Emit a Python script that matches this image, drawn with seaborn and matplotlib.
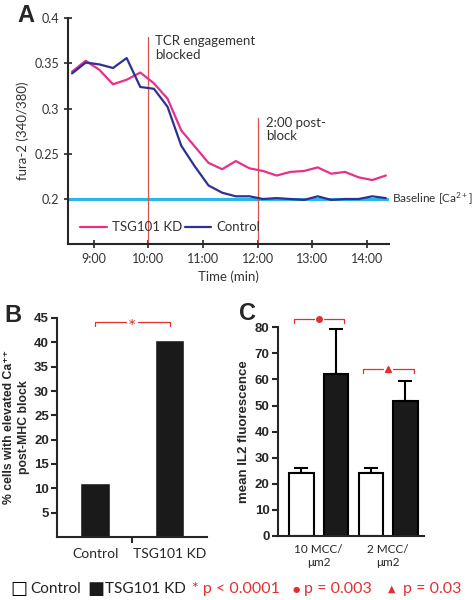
import matplotlib
matplotlib.use("Agg")
import matplotlib.pyplot as plt
import seaborn as sns
import pandas as pd
import numpy as np

# ---- data ----
# panel A: fura-2 ratio over time (minutes)
time_min = [8.60, 8.85, 9.10, 9.35, 9.60, 9.85, 10.10, 10.35, 10.60, 10.85,
            11.10, 11.35, 11.60, 11.85, 12.10, 12.35, 12.60, 12.85, 13.10,
            13.35, 13.60, 13.85, 14.10, 14.35]
tsg101_kd = [0.341, 0.353, 0.343, 0.327, 0.332, 0.340, 0.328, 0.311, 0.276,
             0.258, 0.240, 0.233, 0.242, 0.234, 0.231, 0.226, 0.230, 0.231,
             0.235, 0.228, 0.230, 0.224, 0.221, 0.226]
control = [0.339, 0.351, 0.349, 0.345, 0.356, 0.324, 0.322, 0.302, 0.259,
           0.236, 0.215, 0.207, 0.203, 0.203, 0.200, 0.201, 0.200, 0.199,
           0.203, 0.199, 0.200, 0.200, 0.203, 0.201]
baseline = 0.2
time_ticks = [9, 10, 11, 12, 13, 14]
time_labels = ["9:00", "10:00", "11:00", "12:00", "13:00", "14:00"]

# panel B
b_groups = ["Control", "TSG101 KD"]
b_values = [11.0, 40.4]

# panel C
c_conditions = ["10 MCC/\nμm2", "10 MCC/\nμm2", "2 MCC/\nμm2", "2 MCC/\nμm2"]
c_groups = ["Control", "TSG101 KD", "Control", "TSG101 KD"]
c_means = [24.3, 62.1, 24.3, 51.9]
c_errs = [1.9, 17.1, 1.7, 7.6]

PINK = "#e6318a"
NAVY = "#2e3192"
CYAN = "#29b6e8"
RED = "#e0312f"
VLINE = "#d9534f"
TXT = "#333333"

sns.set_style("ticks")
plt.rcParams["font.family"] = ["Lato", "DejaVu Sans"]
plt.rcParams["mathtext.fontset"] = "custom"
plt.rcParams["mathtext.rm"] = "Lato"
plt.rcParams["mathtext.default"] = "rm"
bold_font = ["Liberation Sans", "DejaVu Sans"]

fig = plt.figure(figsize=(4.74, 6.0), dpi=100)

# ---------------- panel A ----------------
axA = fig.add_axes([0.144, 0.593, 0.821 - 0.144, 0.9695 - 0.593])
dfA = pd.DataFrame({
    "time": time_min * 2,
    "ratio": tsg101_kd + control,
    "line": ["TSG101 KD"] * len(time_min) + ["Control"] * len(time_min),
})
sns.lineplot(data=dfA, x="time", y="ratio", hue="line",
             hue_order=["TSG101 KD", "Control"],
             palette={"TSG101 KD": PINK, "Control": NAVY},
             linewidth=1.6, ax=axA)
axA.axhline(baseline, color=CYAN, linewidth=2.2, zorder=1)
axA.plot([10, 10], [0.15, 0.379], color=VLINE, linewidth=0.9, zorder=1)
axA.plot([12, 12], [0.15, 0.290], color=VLINE, linewidth=0.9, zorder=1)
axA.text(10.12, 0.381, "TCR engagement\nblocked", fontsize=9.5, va="top",
         color=TXT, linespacing=1.15)
axA.text(12.15, 0.291, "2:00 post-\nblock", fontsize=9.5, va="top",
         color=TXT, linespacing=1.15)
axA.text(14.47, baseline, "Baseline [Ca$^{2+}$]", fontsize=8.5, va="center",
         color=TXT, clip_on=False)
axA.set_xlim(8.53, 14.41)
axA.set_ylim(0.15, 0.4)
axA.set_xticks(time_ticks)
axA.set_xticklabels(time_labels)
axA.set_yticks([0.2, 0.25, 0.3, 0.35, 0.4])
axA.set_yticklabels(["0.2", "0.25", "0.3", "0.35", "0.4"])
axA.tick_params(direction="inout", length=6, width=1.2, labelsize=9,
                labelcolor=TXT)
axA.set_xlabel("Time (min)", fontsize=9.5, color=TXT)
axA.set_ylabel("fura-2 (340/380)", fontsize=9.5, color=TXT)
for s in ["left", "bottom"]:
    axA.spines[s].set_linewidth(1.5)
sns.despine(ax=axA)
sns.move_legend(axA, "center left", bbox_to_anchor=(0.0, 0.075), ncol=2,
                frameon=False, title=None, fontsize=9.5, handlelength=2.0,
                columnspacing=0.2, handletextpad=0.4)
for t in axA.get_legend().get_texts():
    t.set_color(TXT)
fig.text(0.036, 0.975, "A", fontsize=17, fontweight="bold", va="center",
         family=bold_font)

# ---------------- panel B ----------------
axB = fig.add_axes([0.121, 0.105, 0.436 - 0.121, 0.47 - 0.105])
sns.barplot(x=b_groups, y=b_values, color="#1a1a1a", width=0.4,
            saturation=1, ax=axB)
axB.set_xlim(-0.51, 1.5)
axB.set_ylim(0, 45)
axB.set_yticks(range(5, 50, 5))
axB.set_yticklabels([str(v) for v in range(5, 50, 5)], fontweight="bold",
                    family=bold_font)
axB.tick_params(axis="y", labelsize=9.5, length=4, width=1.5, pad=2)
axB.tick_params(axis="x", length=0, labelsize=10, pad=8)
axB.set_xticks([0.5], minor=True)
axB.tick_params(axis="x", which="minor", length=4, width=1.5)
axB.set_ylabel("% cells with elevated Ca⁺⁺\npost-MHC block",
               fontsize=8.8, fontweight="bold", family=bold_font, labelpad=3,
               linespacing=1.3)
for s in ["left", "bottom"]:
    axB.spines[s].set_linewidth(1.5)
sns.despine(ax=axB)
# significance bracket
yb = 44.1
axB.plot([0, 0, 0.42], [43.3, yb, yb], color=RED, lw=0.9, clip_on=False)
axB.plot([0.58, 1, 1], [yb, yb, 43.3], color=RED, lw=0.9, clip_on=False)
axB.text(0.5, yb - 1.0, "*", color=RED, ha="center", va="center",
         fontsize=14, clip_on=False)
fig.text(0.01, 0.475, "B", fontsize=17, fontweight="bold", va="center",
         family=bold_font)

# ---------------- panel C ----------------
axC = fig.add_axes([0.586, 0.1067, 0.895 - 0.586, 0.4545 - 0.1067])
dfC = pd.DataFrame({"condition": c_conditions, "group": c_groups,
                    "mean": c_means, "err": c_errs})
sns.barplot(data=dfC, x="condition", y="mean", hue="group",
            hue_order=["Control", "TSG101 KD"],
            palette={"Control": "white", "TSG101 KD": "#1a1a1a"},
            width=1.0, gap=0.3, saturation=1, edgecolor="black",
            linewidth=1.5, errorbar=None, legend=False, ax=axC)
for cont, grp in zip(axC.containers, ["Control", "TSG101 KD"]):
    sub = dfC[dfC["group"] == grp]
    xs = [p.get_x() + p.get_width() / 2 for p in cont.patches]
    axC.errorbar(xs, sub["mean"], yerr=[np.zeros(len(sub)), sub["err"]],
                 fmt="none", ecolor="black", elinewidth=1.5, capsize=5,
                 capthick=1.5, zorder=0)
axC.set_xlim(-0.59, 1.52)
axC.set_ylim(0, 80)
axC.set_yticks(range(0, 90, 10))
axC.set_yticklabels([str(v) for v in range(0, 90, 10)], fontweight="bold",
                    family=bold_font)
axC.tick_params(axis="y", labelsize=9.5, length=4, width=1.5, pad=2)
axC.tick_params(axis="x", length=0, labelsize=8.5, pad=6)
axC.set_xlabel("")
axC.set_ylabel("mean IL2 fluorescence", fontsize=9.5, fontweight="bold",
               family=bold_font, labelpad=3)
for s in ["left", "bottom"]:
    axC.spines[s].set_linewidth(1.5)
sns.despine(ax=axC)
# brackets
y1 = 83.1
axC.plot([-0.35, -0.35, -0.07], [81.6, y1, y1], color=RED, lw=0.9, clip_on=False)
axC.plot([0.07, 0.37, 0.37], [y1, y1, 81.6], color=RED, lw=0.9, clip_on=False)
axC.plot([0], [y1], "o", color=RED, ms=4, clip_on=False)
y2 = 64.0
axC.plot([0.645, 0.645, 0.93], [62.5, y2, y2], color=RED, lw=0.9)
axC.plot([1.07, 1.366, 1.366], [y2, y2, 62.5], color=RED, lw=0.9)
axC.plot([1], [y2], "^", color=RED, ms=5)
fig.text(0.505, 0.478, "C", fontsize=17, fontweight="bold", va="center",
         family=bold_font)

# ---------------- bottom key ----------------
ky = 0.018
fig.text(0.022, ky, "□", fontsize=13, va="center", color="black",
         family="DejaVu Sans")
fig.text(0.064, ky, "Control", fontsize=11, va="center", color="#222222")
fig.text(0.185, ky, "■", fontsize=13, va="center", color="#1a1a1a",
         family="DejaVu Sans")
fig.text(0.222, ky, "TSG101 KD", fontsize=11, va="center", color="#222222")
fig.text(0.405, ky, "* p < 0.0001", fontsize=11.5, va="center", color=RED)
fig.text(0.618, ky, "●", fontsize=6, va="center", color=RED,
         family="DejaVu Sans")
fig.text(0.642, ky, "p = 0.003", fontsize=11.5, va="center", color=RED)
fig.text(0.818, ky, "▲", fontsize=7, va="center", color=RED,
         family="DejaVu Sans")
fig.text(0.85, ky, "p = 0.03", fontsize=11.5, va="center", color=RED)

fig.savefig("out.png", dpi=100)
